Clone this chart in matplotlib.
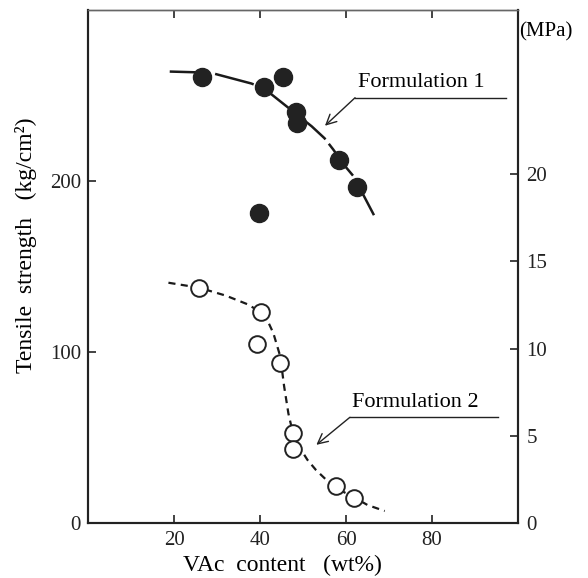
import matplotlib
matplotlib.use("Agg")
import matplotlib.pyplot as plt

plt.rcParams['font.family'] = ['Liberation Serif', 'DejaVu Serif']

# Formulation 1 (filled circles)
f1_vac = [26.6, 41.0, 45.4, 48.4, 48.5, 58.4, 62.6, 39.8]
f1_ts = [261, 255, 261, 240.5, 234, 212, 196.5, 181]

# Formulation 2 (open circles)
f2_vac = [25.8, 40.2, 39.2, 44.7, 47.7, 47.6, 57.6, 61.9]
f2_ts = [137.6, 123.3, 104.4, 93.3, 52.6, 43.4, 21.7, 14.8]

# hand drawn trend lines
c1_vac = [19, 26, 29, 35, 38, 41, 43, 45, 49, 52, 55, 57, 60, 62, 64, 66.5]
c1_ts = [264, 263.5, 263, 259, 257, 254, 250, 246, 238, 232, 225, 218.5, 208, 202, 192, 180]

c2_vac = [18.7, 25.8, 32, 37, 40.2, 42, 43.1, 44, 44.7, 45.6, 46.6, 47.7, 49.5, 51, 53, 55.5, 58, 62, 65, 69]
c2_ts = [140.5, 137.6, 133, 128, 123.3, 117, 111, 103.4, 97.5, 80, 64, 52, 43, 37, 31, 25, 20, 14.8, 10.5, 7]

KG_PER_MPA = 10.197

fig = plt.figure(figsize=(5.88, 5.78), dpi=100)
ax = fig.add_axes([0.1497, 0.0952, 0.7313, 0.8875])

ax.plot(c1_vac, c1_ts, color='#1a1a1a', lw=1.8, dashes=(16, 2.2), zorder=2)
ax.plot(c2_vac, c2_ts, color='#1a1a1a', lw=1.6, dashes=(3.2, 2.4), zorder=2)

ax.plot(f1_vac, f1_ts, 'o', ms=13, color='#222222', mec='#222222', zorder=3)
ax.plot(f2_vac, f2_ts, 'o', ms=12, mfc='white', mec='#222222', mew=1.4, zorder=3)

# annotations
ax.text(62.8, 252, 'Formulation 1', fontsize=16, ha='left', va='bottom')
ax.plot([62.1, 97.2], [248.7, 248.7], color='#222222', lw=1.0)
ax.annotate('', xy=(55.1, 232.3), xytext=(62.1, 248.7),
            arrowprops=dict(arrowstyle='->', color='#222222', lw=1.0,
                            mutation_scale=18, shrinkA=0, shrinkB=0))

ax.text(61.5, 65, 'Formulation 2', fontsize=16, ha='left', va='bottom')
ax.plot([60.9, 95.3], [61.8, 61.8], color='#222222', lw=1.0)
ax.annotate('', xy=(53.1, 45.7), xytext=(60.9, 61.8),
            arrowprops=dict(arrowstyle='->', color='#222222', lw=1.0,
                            mutation_scale=18, shrinkA=0, shrinkB=0))

ax.set_xlim(0, 100)
ax.set_ylim(0, 300)
ax.set_xticks([20, 40, 60, 80])
ax.set_yticks([0, 100, 200])
ax.tick_params(axis='both', direction='in', length=6, width=1.2, labelsize=15,
               top=True, colors='#222222')
ax.tick_params(axis='x', pad=6)
ax.tick_params(axis='y', pad=5)

ax.set_xlabel('VAc  content   (wt%)', fontsize=17)
ax.xaxis.set_label_coords(0.453, -0.063)
ax.set_ylabel('Tensile  strength   (kg/cm²)', fontsize=17)
ax.yaxis.set_label_coords(-0.118, 0.542)

ax2 = ax.twinx()
ax2.set_ylim(0, 300 / KG_PER_MPA)
ax2.set_yticks([0, 5, 10, 15, 20])
ax2.tick_params(axis='y', direction='in', length=6, width=1.2, labelsize=15,
                pad=6, colors='#222222')
ax.text(1.003, 0.957, '(MPa)', transform=ax.transAxes, fontsize=15,
        ha='left', va='center')

for a in (ax, ax2):
    for s in a.spines.values():
        s.set_linewidth(1.5)
        s.set_color('#222222')
    a.spines['top'].set_linewidth(1.0)
    a.spines['top'].set_color('#666666')

fig.savefig('out.png', dpi=100)
